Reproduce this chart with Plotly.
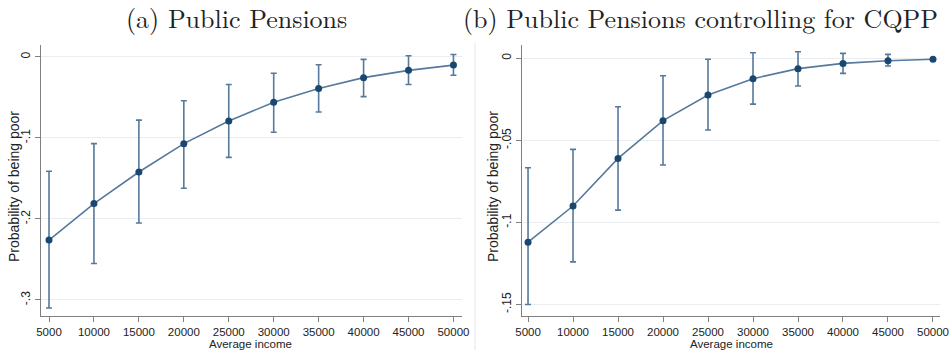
import plotly.graph_objects as go

income = [5000, 10000, 15000, 20000, 25000, 30000, 35000, 40000, 45000, 50000]
x_ticks = income

# Panel (a): Public Pensions
a_est = [-0.226, -0.181, -0.142, -0.107, -0.079, -0.056, -0.039, -0.0255, -0.0165, -0.010]
a_lo = [-0.310, -0.255, -0.205, -0.162, -0.124, -0.093, -0.068, -0.049, -0.034, -0.0226]
a_hi = [-0.141, -0.107, -0.078, -0.054, -0.034, -0.020, -0.0095, -0.003, 0.0016, 0.003]
a_ytick_vals = [0, -0.1, -0.2, -0.3]
a_ytick_text = ["0", "-.1", "-.2", "-.3"]

# Panel (b): Public Pensions controlling for CQPP
b_est = [-0.112, -0.090, -0.061, -0.038, -0.0224, -0.0124, -0.0063, -0.0031, -0.0015, -0.0006]
b_lo = [-0.150, -0.124, -0.0925, -0.065, -0.0437, -0.0279, -0.0169, -0.0092, -0.0047, -0.0012]
b_hi = [-0.0667, -0.0555, -0.0295, -0.0106, -0.0006, 0.0034, 0.004, 0.003, 0.0024, 0.0002]
b_ytick_vals = [0, -0.05, -0.1, -0.15]
b_ytick_text = ["0", "-.05", "-.1", "-.15"]

titles = ["(a) Public Pensions", "(b) Public Pensions controlling for CQPP"]
y_title = "Probability of being poor"
x_title = "Average income"

LINE = "#56799c"
MARK = "#1a476f"
AXIS = "#808080"
GRID = "#e9eef2"
W, H = 950, 350

fig = go.Figure()

def add_panel(est, lo, hi, xa, ya):
    fig.add_trace(go.Scatter(
        x=income, y=est, mode="lines+markers",
        line=dict(color=LINE, width=1.6),
        marker=dict(color=MARK, size=7),
        error_y=dict(type="data", symmetric=False,
                     array=[h - e for h, e in zip(hi, est)],
                     arrayminus=[e - l for e, l in zip(est, lo)],
                     color=LINE, thickness=1.6, width=3),
        xaxis=xa, yaxis=ya, showlegend=False, hoverinfo="skip"))

add_panel(a_est, a_lo, a_hi, "x", "y")
add_panel(b_est, b_lo, b_hi, "x2", "y2")

SANS = "Liberation Sans, Arial, sans-serif"
SERIF = "Latin Modern Roman, CMU Serif, Liberation Serif, serif"
xtickfont = dict(family=SANS, size=11.5, color="#222")
ytickfont = dict(family=SANS, size=12, color="#222")

def xaxis(domain, anchor, rng):
    return dict(domain=domain, anchor=anchor, range=rng, automargin=False,
                tickvals=x_ticks, ticktext=[str(v) for v in x_ticks],
                ticks="outside", ticklen=5, tickcolor=AXIS, tickwidth=1,
                showline=True, linecolor=AXIS, linewidth=1.2,
                showgrid=False, zeroline=False, tickfont=xtickfont)

def yaxis(domain, anchor, rng, vals, text):
    return dict(domain=domain, anchor=anchor, range=rng, automargin=False,
                tickvals=vals, ticktext=text, tickangle=-90,
                ticks="outside", ticklen=5, tickcolor=AXIS, tickwidth=1,
                showline=True, linecolor=AXIS, linewidth=1.2,
                showgrid=True, gridcolor=GRID, gridwidth=1,
                zeroline=False, tickfont=ytickfont)

def ann(text, x, y, size, family, angle=0):
    return dict(text=text, x=x / W, y=1 - y / H, xref="paper", yref="paper",
                showarrow=False, xanchor="center", yanchor="middle", textangle=angle,
                font=dict(family=family, size=size, color="#222"))

ydom = [1 - 316 / H, 1 - 45 / H]
fig.update_layout(
    width=W, height=H,
    margin=dict(l=0, r=0, t=0, b=0, autoexpand=False),
    paper_bgcolor="white", plot_bgcolor="white",
    xaxis=xaxis([41 / W, 462 / W], "y", [4110, 50950]),
    yaxis=yaxis(ydom, "x", [-0.3198, 0.0148], a_ytick_vals, a_ytick_text),
    xaxis2=xaxis([522 / W, 940 / W], "y2", [4330, 50780]),
    yaxis2=yaxis(ydom, "x2", [-0.157, 0.0081], b_ytick_vals, b_ytick_text),
    annotations=[
        ann(titles[0], 236, 17, 26, SERIF),
        ann(titles[1], 700, 17, 26, SERIF),
        ann(x_title, 251, 343.5, 11.5, SANS),
        ann(x_title, 731, 343.5, 11.5, SANS),
        ann(y_title, 14, 187, 14, SANS, -90),
        ann(y_title, 493, 187, 14, SANS, -90),
    ],
    shapes=[
        dict(type="line", xref="paper", yref="paper", x0=475 / W, x1=475 / W,
             y0=0, y1=1 - 43 / H, line=dict(color="#e6e6e6", width=1)),
    ],
)

fig.write_html("out.html", config={"displayModeBar": False},
               post_script="document.body.style.margin='0';document.body.style.overflow='hidden';")
